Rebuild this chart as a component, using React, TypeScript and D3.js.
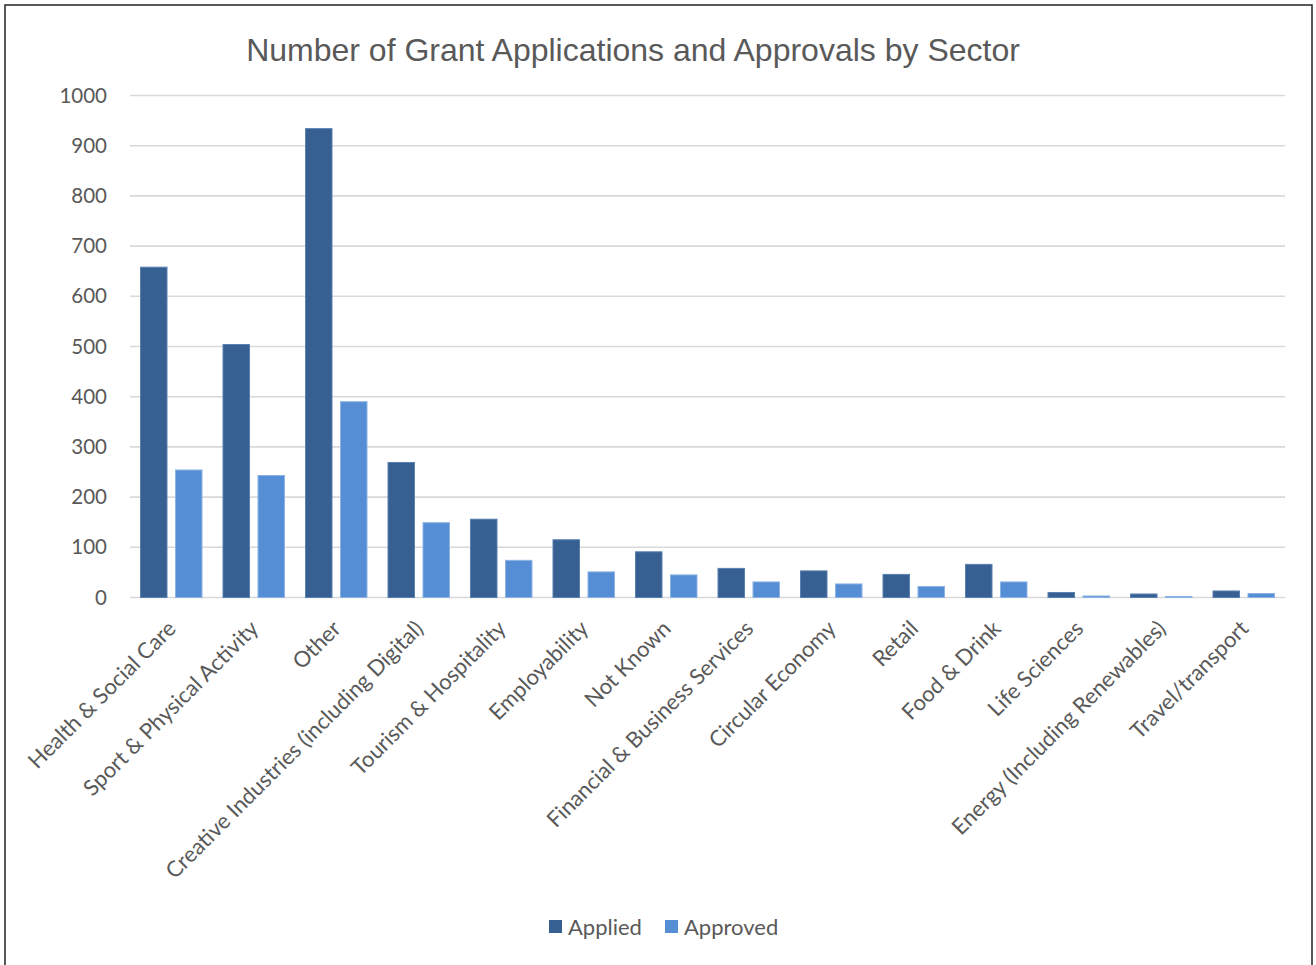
import React from "react";
import * as d3 from "d3";

const categories = [
  "Health & Social Care",
  "Sport & Physical Activity",
  "Other",
  "Creative Industries (including Digital)",
  "Tourism & Hospitality",
  "Employability",
  "Not Known",
  "Financial & Business Services",
  "Circular Economy",
  "Retail",
  "Food & Drink",
  "Life Sciences",
  "Energy (Including Renewables)",
  "Travel/transport",
];
const applied = [659, 505, 935, 270, 157, 116, 92, 59, 54, 47, 67, 11, 8, 14];
const approved = [255, 244, 391, 150, 75, 52, 46, 32, 28, 23, 32, 4, 3, 9];
const seriesNames = ["Applied", "Approved"];
const yTicks = [0, 100, 200, 300, 400, 500, 600, 700, 800, 900, 1000];
const title = "Number of Grant Applications and Approvals by Sector";

const W = 1316;
const H = 965;
const colors = ["#366092", "#558ED5"];
const strokes = ["#5a81b0", "#8db3e4"];
const textColor = "#595959";
const font = "Lato, 'Open Sans', sans-serif";

export default function App() {
  const x = d3
    .scaleBand<string>()
    .domain(categories)
    .range([130, 1285])
    .paddingInner(0.2424)
    .paddingOuter(0.1212);
  const xs = d3
    .scaleBand<string>()
    .domain(seriesNames)
    .range([0, x.bandwidth()])
    .paddingInner(0.214);
  const y = d3.scaleLinear().domain([0, 1000]).range([597.5, 95.5]);
  const series = [applied, approved];

  return (
    <div style={{ position: "absolute", left: 0, top: 0 }}>
      <svg width={W} height={H} style={{ display: "block", background: "#fff" }}>
        <rect x={5} y={5} width={1307} height={975} fill="#fff" stroke="#222" strokeWidth={1.5} />
        <text
          x={633}
          y={61}
          textAnchor="middle"
          fill={textColor}
          fontFamily="'Liberation Sans Narrow', 'Arial Narrow', 'Liberation Sans', sans-serif"
          fontSize={32}
        >
          {title}
        </text>
        {yTicks.map((t) => (
          <g key={t}>
            <line x1={130} x2={1285} y1={y(t)} y2={y(t)} stroke="#d9d9d9" strokeWidth={1.6} />
            <text
              x={107}
              y={y(t)}
              dy="0.35em"
              textAnchor="end"
              fill={textColor}
              fontFamily={font}
              fontSize={20.5}
            >
              {t}
            </text>
          </g>
        ))}
        {categories.map((c, i) => (
          <g key={c} transform={`translate(${x(c)},0)`}>
            {series.map((s, k) => (
              <rect
                key={k}
                x={xs(seriesNames[k])! + 0.5}
                y={y(s[i]) + 0.5}
                width={xs.bandwidth() - 1}
                height={Math.max(0, y(0) - y(s[i]) - 0.5)}
                fill={colors[k]}
                stroke={strokes[k]}
                strokeWidth={1}
              />
            ))}
          </g>
        ))}
        {categories.map((c) => {
          const cx = x(c)! + x.bandwidth() / 2 + 6;
          const cy = 630;
          return (
            <text
              key={c}
              transform={`translate(${cx},${cy}) rotate(-45)`}
              textAnchor="end"
              fill={textColor}
              fontFamily={font}
              fontSize={22}
            >
              {c}
            </text>
          );
        })}
        {seriesNames.map((n, k) => {
          const lx = [549, 665][k];
          return (
            <g key={n}>
              <rect x={lx} y={920} width={13} height={13} fill={colors[k]} />
              <text x={lx + 19} y={927} dy="0.35em" fill={textColor} fontFamily={font} fontSize={22}>
                {n}
              </text>
            </g>
          );
        })}
      </svg>
    </div>
  );
}
